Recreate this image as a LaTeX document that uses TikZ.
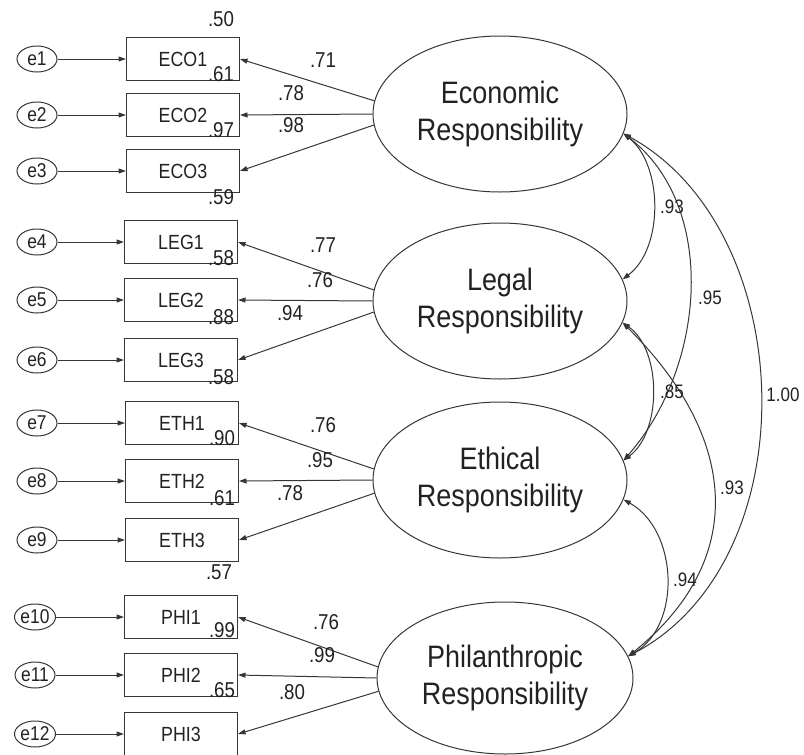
\documentclass[tikz,border=0pt]{standalone}
\usepackage{fontspec}
\setmainfont[FakeStretch=0.87]{Liberation Sans}
\usetikzlibrary{shapes.geometric,arrows.meta}
\definecolor{ink}{HTML}{363636}
\definecolor{txt}{HTML}{222222}
\begin{document}
\begin{tikzpicture}[x=1pt,y=-1pt,
  >={Triangle[length=7.5pt,width=5pt]},
  obs/.style={draw=ink,line width=1pt,rectangle,minimum width=113pt,minimum height=43pt,inner sep=0pt,font=\fontsize{20.5}{22}\selectfont,text=txt},
  lat/.style={draw=ink,line width=1pt,ellipse,minimum width=254pt,minimum height=156pt,inner sep=0pt,align=center,font=\fontsize{31}{37}\selectfont,text=txt},
  err/.style={draw=ink,line width=1pt,ellipse,minimum width=40pt,minimum height=26pt,inner sep=0pt,font=\fontsize{20}{20}\selectfont,text=txt},
  num/.style={font=\fontsize{21.5}{22}\selectfont,text=txt,inner sep=0pt},
  cnum/.style={font=\fontsize{19.5}{20}\selectfont,text=txt,inner sep=0pt},
  link/.style={draw=ink,line width=1pt,->},
  cov/.style={draw=ink,line width=1pt,<->}
]
\useasboundingbox (0,0) rectangle (804,755);

% error terms
\node[err] (e1) at (37,59) {e1};
\node[err] (e2) at (37,115) {e2};
\node[err] (e3) at (37,171) {e3};
\node[err] (e4) at (37,242) {e4};
\node[err] (e5) at (37,300) {e5};
\node[err] (e6) at (37,360) {e6};
\node[err] (e7) at (37,423) {e7};
\node[err] (e8) at (37,481) {e8};
\node[err] (e9) at (37,540) {e9};
\node[err] (e10) at (35,617) {e10};
\node[err] (e11) at (35,675) {e11};
\node[err] (e12) at (35,734) {e12};

% observed indicators
\node[obs] (eco1) at (183,59) {ECO1};
\node[obs] (eco2) at (183,115) {ECO2};
\node[obs] (eco3) at (183,171) {ECO3};
\node[obs] (leg1) at (181,242) {LEG1};
\node[obs] (leg2) at (181,300) {LEG2};
\node[obs] (leg3) at (181,360) {LEG3};
\node[obs] (eth1) at (182,423) {ETH1};
\node[obs] (eth2) at (182,481) {ETH2};
\node[obs] (eth3) at (182,540) {ETH3};
\node[obs] (phi1) at (181,617) {PHI1};
\node[obs] (phi2) at (181,675) {PHI2};
\node[obs] (phi3) at (181,734) {PHI3};

% latent factors
\node[lat] (econ) at (500,114) {Economic\\Responsibility};
\node[lat] (legal) at (500,301) {Legal\\Responsibility};
\node[lat] (ethic) at (500,480) {Ethical\\Responsibility};
\node[lat,minimum width=256pt,minimum height=152pt] (phil) at (505,678) {Philanthropic\\Responsibility};

% error arrows
\foreach \a/\b in {e1/eco1,e2/eco2,e3/eco3,e4/leg1,e5/leg2,e6/leg3,e7/eth1,e8/eth2,e9/eth3,e10/phi1,e11/phi2,e12/phi3}
  \draw[link] (\a) -- (\b);

% loadings
\draw[link] (econ.174) -- (eco1.east);
\draw[link] (econ.180) -- (eco2.east);
\draw[link] (econ.185) -- (eco3.east);
\draw[link] (legal.175) -- (leg1.east);
\draw[link] (legal.180) -- (leg2.east);
\draw[link] (legal.185) -- (leg3.east);
\draw[link] (ethic.175) -- (eth1.east);
\draw[link] (ethic.180) -- (eth2.east);
\draw[link] (ethic.186) -- (eth3.east);
\draw[link] (phil.175) -- (phi1.east);
\draw[link] (phil.180) -- (phi2.east);
\draw[link] (phil.186) -- (phi3.east);

% loading labels
\node[num] (l1) at (323,60) {.71};
\node[num] (l2) at (291,93) {.78};
\node[num] (l3) at (291,125) {.98};
\node[num] (l4) at (323,245) {.77};
\node[num] (l5) at (320,280) {.76};
\node[num] (l6) at (290,313) {.94};
\node[num] (l7) at (323,425) {.76};
\node[num] (l8) at (320,460) {.95};
\node[num] (l9) at (290,493) {.78};
\node[num] (l10) at (326,622) {.76};
\node[num] (l11) at (322,655) {.99};
\node[num] (l12) at (292,692) {.80};

% squared multiple correlations
\node[num] (r1) at (221,19) {.50};
\node[num] (r2) at (221,74) {.61};
\node[num] (r3) at (221,130) {.97};
\node[num] (r4) at (221,197) {.59};
\node[num] (r5) at (221,258) {.58};
\node[num] (r6) at (221,317) {.88};
\node[num] (r7) at (221,377) {.58};
\node[num] (r8) at (222,438) {.90};
\node[num] (r9) at (222,498) {.61};
\node[num] (r10) at (219,572) {.57};
\node[num] (r11) at (222,630) {.99};
\node[num] (r12) at (222,690) {.65};

% covariances
\draw[cov] (econ.-9) .. controls (663,165) and (664,248) .. (legal.10);
\draw[cov] (econ.-9) .. controls (717,205) and (707,365) .. (ethic.9);
\draw[cov] (econ.-9) .. controls (800,230) and (810,560) .. (phil.10);
\draw[cov] (legal.-10) .. controls (662,350) and (662,432) .. (ethic.9);
\draw[cov] (legal.-10) .. controls (739,438) and (748,560) .. (phil.10);
\draw[cov] (ethic.-9) .. controls (678,530) and (682,625) .. (phil.10);

\node[cnum] (c1) at (672,207) {.93};
\node[cnum] (c2) at (710,298) {.95};
\node[cnum] (c3) at (783,395) {1.00};
\node[cnum] (c4) at (672,392) {.85};
\node[cnum] (c5) at (732,488) {.93};
\node[cnum] (c6) at (685,580) {.94};
\end{tikzpicture}
\end{document}
